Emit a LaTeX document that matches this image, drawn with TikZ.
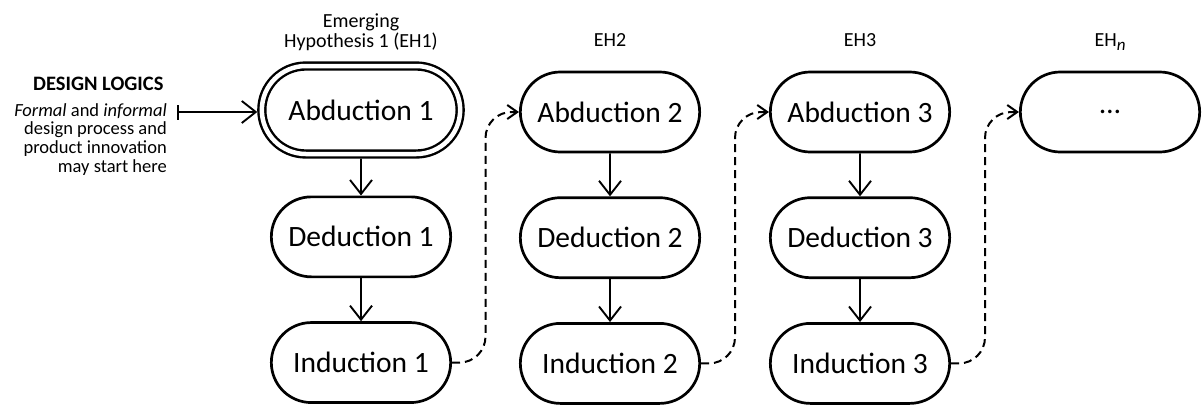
\documentclass[tikz,border=0pt]{standalone}
\usepackage{fontspec}
\setmainfont{Carlito}
\usetikzlibrary{shapes.misc, arrows.meta, positioning, calc}

\begin{document}
\begin{tikzpicture}[
            x=1pt, y=1pt,
            node distance=43pt,
            % stadium shaped steps of the cycle
            stage/.style={
                draw, rounded rectangle,
                line width=2.7pt,
                minimum width=186pt,
                minimum height=80pt,
                font=\fontsize{29.5}{34}\selectfont
            },
            % the starting step gets a double outline
            firststage/.style={
                stage, double, double distance=4.5pt, line width=2.4pt,
                minimum width=205pt, minimum height=88pt, outer sep=4.5pt
            },
            hyp/.style={anchor=base, align=center, font=\fontsize{20}{20}\selectfont},
            arrow/.style={-{Straight Barb[length=14pt,width=22pt]}, line width=1.9pt},
            feedback/.style={-{Straight Barb[length=10pt,width=14pt]}, line width=2pt,
                dash pattern=on 8pt off 5pt, rounded corners=26pt}
        ]
        \useasboundingbox (0,0) rectangle (1203,-405);

        % Cycle 1
        \node[firststage] (abd1) at (361,-110) {Abduction 1};
        \node[stage, below=37pt of abd1] (ded1) {Deduction 1};
        \node[stage, below=of ded1] (ind1) {Induction 1};

        % Cycle 2
        \node[stage] (abd2) at (610,-112) {Abduction 2};
        \node[stage, below=of abd2] (ded2) {Deduction 2};
        \node[stage, below=of ded2] (ind2) {Induction 2};

        % Cycle 3
        \node[stage] (abd3) at (860,-112) {Abduction 3};
        \node[stage, below=of abd3] (ded3) {Deduction 3};
        \node[stage, below=of ded3] (ind3) {Induction 3};

        % Cycle n
        \node[stage] (abdn) at (1110,-112) {…};

        % Hypotheses
        \node[hyp] (eh1) at (361,-47) {Emerging\\Hypothesis 1 (EH1)};
        \node[hyp] (eh2) at (610,-46) {EH2};
        \node[hyp] (eh3) at (860,-46) {EH3};
        \node[hyp] (ehn) at (1110,-46) {EH\raisebox{-4.5pt}{\fontsize{17}{17}\selectfont\textit{n}}};

        % Design logics
        \node[anchor=base east, font=\fontsize{20.5}{24}\bfseries\selectfont] (logics) at (167,-90) {DESIGN LOGICS};
        \node[anchor=north east, align=right, inner sep=0pt, font=\fontsize{18.5}{18.7}\selectfont] (note) at (167,-103)
            {\textit{Formal} and \textit{informal}\\design process and\\product innovation\\may start here};
        \coordinate (start) at (177,-112);

        % Arrows
        \draw[arrow, {Bar[width=15pt]}-{Straight Barb[length=14pt,width=22pt]}] (start) -- (start -| abd1.west);
        \draw[arrow] (abd1) -- (ded1);
        \draw[arrow] (ded1) -- (ind1);
        \draw[arrow] (abd2) -- (ded2);
        \draw[arrow] (ded2) -- (ind2);
        \draw[arrow] (abd3) -- (ded3);
        \draw[arrow] (ded3) -- (ind3);

        % Next hypothesis
        \draw[feedback] (ind1.east) -| ($(ind1.east)!.5!(abd2.west)$) |- (abd2.west);
        \draw[feedback] (ind2.east) -| ($(ind2.east)!.5!(abd3.west)$) |- (abd3.west);
        \draw[feedback] (ind3.east) -| ($(ind3.east)!.5!(abdn.west)$) |- (abdn.west);

        \end{tikzpicture}
\end{document}
